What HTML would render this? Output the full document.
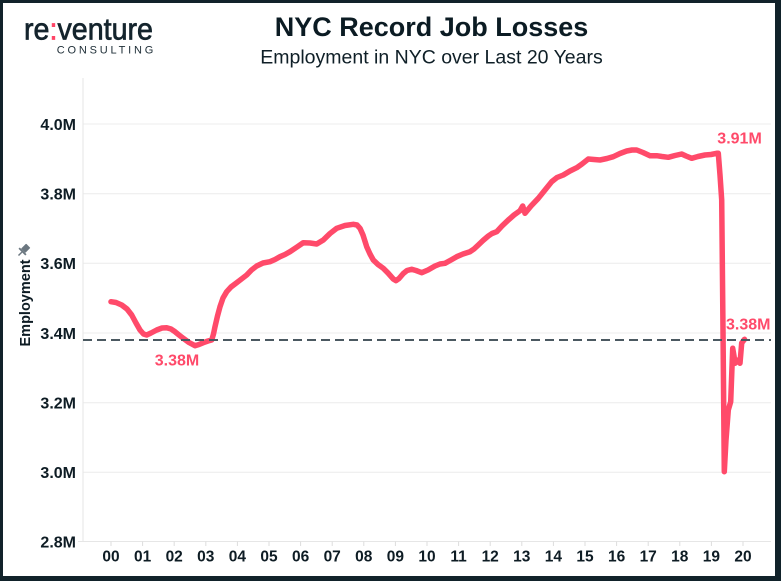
<!DOCTYPE html>
<html>
<head>
<meta charset="utf-8">
<style>
  html,body{margin:0;padding:0;background:#fff;}
  body{width:781px;height:581px;overflow:hidden;}
  svg{display:block;}
  text{font-family:"Liberation Sans",Arial,sans-serif;}
</style>
</head>
<body>
<svg width="781" height="581" viewBox="0 0 781 581" xmlns="http://www.w3.org/2000/svg">
  <!-- background and border -->
  <rect x="0" y="0" width="781" height="581" fill="#11222a"/>
  <rect x="3" y="3" width="772" height="573" fill="#ffffff"/>

  <!-- logo -->
  <text x="24" y="39.3" font-size="31" fill="#14242d" stroke="#14242d" stroke-width="0.7" textLength="129" lengthAdjust="spacingAndGlyphs">re<tspan fill="#ff4466" stroke="#ff4466">:</tspan>venture</text>
  <text x="56.7" y="53.3" font-size="11" fill="#1d2d36" textLength="96.6" lengthAdjust="spacing">CONSULTING</text>

  <!-- titles -->
  <text x="431.5" y="36" font-size="27" font-weight="bold" fill="#0b1b23" text-anchor="middle">NYC Record Job Losses</text>
  <text x="431.5" y="63.3" font-size="19.5" fill="#0f1f27" text-anchor="middle">Employment in NYC over Last 20 Years</text>

  <!-- gridlines -->
  <g stroke="#ececec" stroke-width="1">
    <line x1="83" y1="124" x2="771" y2="124"/>
    <line x1="83" y1="193.7" x2="771" y2="193.7"/>
    <line x1="83" y1="263.3" x2="771" y2="263.3"/>
    <line x1="83" y1="333" x2="771" y2="333"/>
    <line x1="83" y1="402.7" x2="771" y2="402.7"/>
    <line x1="83" y1="472.3" x2="771" y2="472.3"/>
  </g>
  <!-- axes -->
  <line x1="83" y1="78" x2="83" y2="541.5" stroke="#e6e6e6" stroke-width="1"/>
  <line x1="78" y1="541.5" x2="771" y2="541.5" stroke="#e6e6e6" stroke-width="1"/>
  <g stroke="#dddddd" stroke-width="1">
    <line x1="111" y1="541.5" x2="111" y2="546"/>
    <line x1="142.6" y1="541.5" x2="142.6" y2="546"/>
    <line x1="174.2" y1="541.5" x2="174.2" y2="546"/>
    <line x1="205.8" y1="541.5" x2="205.8" y2="546"/>
    <line x1="237.4" y1="541.5" x2="237.4" y2="546"/>
    <line x1="269" y1="541.5" x2="269" y2="546"/>
    <line x1="300.6" y1="541.5" x2="300.6" y2="546"/>
    <line x1="332.2" y1="541.5" x2="332.2" y2="546"/>
    <line x1="363.8" y1="541.5" x2="363.8" y2="546"/>
    <line x1="395.4" y1="541.5" x2="395.4" y2="546"/>
    <line x1="427" y1="541.5" x2="427" y2="546"/>
    <line x1="458.6" y1="541.5" x2="458.6" y2="546"/>
    <line x1="490.2" y1="541.5" x2="490.2" y2="546"/>
    <line x1="521.8" y1="541.5" x2="521.8" y2="546"/>
    <line x1="553.4" y1="541.5" x2="553.4" y2="546"/>
    <line x1="585" y1="541.5" x2="585" y2="546"/>
    <line x1="616.6" y1="541.5" x2="616.6" y2="546"/>
    <line x1="648.2" y1="541.5" x2="648.2" y2="546"/>
    <line x1="679.8" y1="541.5" x2="679.8" y2="546"/>
    <line x1="711.4" y1="541.5" x2="711.4" y2="546"/>
    <line x1="743" y1="541.5" x2="743" y2="546"/>
  </g>

  <!-- y labels -->
  <g font-size="16" font-weight="bold" fill="#0e1c24" text-anchor="end">
    <text x="76" y="129.8">4.0M</text>
    <text x="76" y="199.5">3.8M</text>
    <text x="76" y="269.1">3.6M</text>
    <text x="76" y="338.8">3.4M</text>
    <text x="76" y="408.5">3.2M</text>
    <text x="76" y="478.1">3.0M</text>
    <text x="76" y="547.3">2.8M</text>
  </g>

  <!-- x labels -->
  <g font-size="15.5" font-weight="bold" fill="#0e1c24" text-anchor="middle">
    <text x="111" y="561.7">00</text>
    <text x="142.6" y="561.7">01</text>
    <text x="174.2" y="561.7">02</text>
    <text x="205.8" y="561.7">03</text>
    <text x="237.4" y="561.7">04</text>
    <text x="269" y="561.7">05</text>
    <text x="300.6" y="561.7">06</text>
    <text x="332.2" y="561.7">07</text>
    <text x="363.8" y="561.7">08</text>
    <text x="395.4" y="561.7">09</text>
    <text x="427" y="561.7">10</text>
    <text x="458.6" y="561.7">11</text>
    <text x="490.2" y="561.7">12</text>
    <text x="521.8" y="561.7">13</text>
    <text x="553.4" y="561.7">14</text>
    <text x="585" y="561.7">15</text>
    <text x="616.6" y="561.7">16</text>
    <text x="648.2" y="561.7">17</text>
    <text x="679.8" y="561.7">18</text>
    <text x="711.4" y="561.7">19</text>
    <text x="743" y="561.7">20</text>
  </g>

  <!-- y axis title -->
  <text x="0" y="0" font-size="14.5" font-weight="bold" fill="#0e1c24" text-anchor="middle" transform="translate(30,303) rotate(-90)">Employment</text>
  <!-- pin icon -->
  <g transform="translate(24,250) rotate(45) scale(1.2)" fill="#6b7780">
    <rect x="-2.5" y="-5" width="5" height="6" rx="0.5"/>
    <rect x="-4" y="1" width="8" height="1.5"/>
    <rect x="-0.6" y="2.5" width="1.2" height="4"/>
  </g>

  <!-- series -->
  <polyline fill="none" stroke="#ff4a6a" stroke-width="5.5" stroke-linejoin="round" stroke-linecap="round" points="
111,301.7 116,302.5 121.7,305 127,309 131.7,315 136,323 140,330 143.5,334 146.7,335 151,333 156.7,330 162,328 166.7,327.7 171,329 175,331.7 179,335 183.3,338.3 189,342.5 195,345.7 199,344.5 203.3,342.7 208,341 211.7,340 213.5,334 215,326.7 217.5,316 220,306.7 223,298 226.7,291.7 231,287 236.7,282.7 241.5,279 246.7,275 251.5,270 256.7,266 263,263 270,261.7 275,259.5 280,256.7 285,254.5 290,251.7 297,247 303.3,242.7 310,243 316.7,244 323.3,240 330,233.5 336.7,228.3 345,225.5 353.3,224.3 357,225 360,228.3 363,235 366.7,246.7 370,254 373.3,260 378,264.5 383.3,268.3 388,273 393.3,279 396,280.7 399,278.5 403.3,273.5 407,270.5 411.7,269.3 416,270.5 421.7,272.7 428,270 435,266 440,264 445,263.3 451,260 456.7,256.7 463,254 470,251.7 474,249 478.3,245 483,240.5 488.3,236 492,233.5 496.7,231.7 502,226 508.3,220 514,215 520,210.7 522.7,206 525,213.3 531,206 538.3,198.3 545,190 551.7,181.7 557,177.5 563.3,175 570,171 576.7,167.7 582,164 588.3,159 594,159.5 600,160 607,158.5 613.3,156.7 620,153.5 626.7,151 632,150 636.7,150 643,152.5 650,155.7 656.7,155.7 662,156.5 668.3,157.3 675,155.5 681.7,154 686,156 691.7,158.3 698,156.5 705,155 711,154.5 716.7,153.3 718.3,153.3 720,175 721.7,200 723,330 724.3,471.7 726,440 728.3,410 730.7,401.7 732.7,348.3 734,356 735,363.3 738,360 740,363.3 741.7,343 744.5,339.3"/>

  <!-- dashed reference line -->
  <line x1="83" y1="340" x2="771" y2="340" stroke="#4b5961" stroke-width="2" stroke-dasharray="9,5"/>

  <!-- annotations -->
  <g font-size="16" font-weight="bold" fill="#ff4a6a">
    <text x="177" y="365.5" text-anchor="middle">3.38M</text>
    <text x="717.3" y="143.3">3.91M</text>
    <text x="726" y="329.3">3.38M</text>
  </g>
</svg>
</body>
</html>
